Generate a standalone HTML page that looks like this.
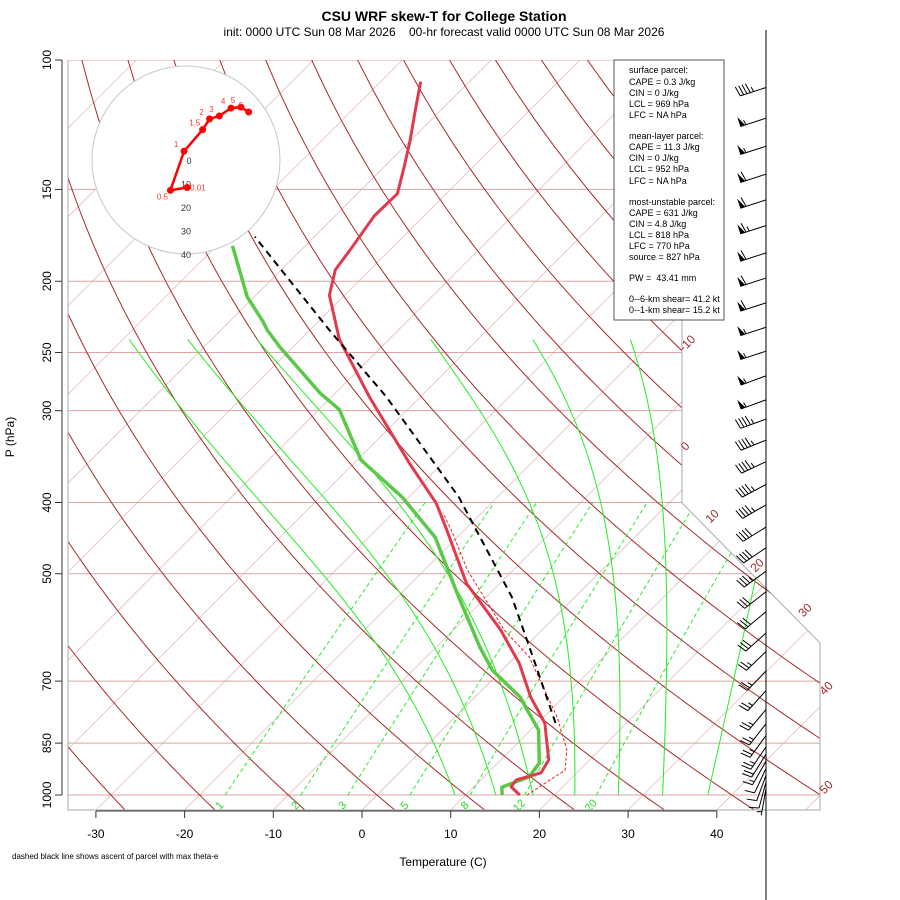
<!DOCTYPE html>
<html><head><meta charset="utf-8"><style>
html,body{margin:0;padding:0;background:#fff;}
svg{display:block;font-family:"Liberation Sans",sans-serif;}
</style></head><body>
<svg id="chart" width="900" height="900" viewBox="0 0 900 900">
<defs><clipPath id="plotclip"><polygon points="68,60 682,60 682,503 820,643 820,810 68,810"/></clipPath></defs>
<text x="444" y="21" text-anchor="middle" font-size="14" font-weight="bold">CSU WRF skew-T for College Station</text>
<text x="444" y="36" text-anchor="middle" font-size="12" xml:space="preserve">init: 0000 UTC Sun 08 Mar 2026    00-hr forecast valid 0000 UTC Sun 08 Mar 2026</text>
<g id="bg" clip-path="url(#plotclip)"></g>
<g id="curves" clip-path="url(#plotclip)"></g>
<g id="frame"></g>
<g id="axes"></g>
<g id="hodo"></g>
<g id="barbs"></g>
<g id="infobox">
<rect x="614" y="60" width="110" height="260" fill="#fff" stroke="#555" stroke-width="1"/>
<g font-size="9" fill="#000">
<text x="629" y="73">surface parcel:</text>
<text x="629" y="85">CAPE = 0.3 J/kg</text>
<text x="629" y="96">CIN = 0 J/kg</text>
<text x="629" y="107">LCL = 969 hPa</text>
<text x="629" y="118">LFC = NA hPa</text>
<text x="629" y="139">mean-layer parcel:</text>
<text x="629" y="150">CAPE = 11.3 J/kg</text>
<text x="629" y="161">CIN = 0 J/kg</text>
<text x="629" y="172">LCL = 952 hPa</text>
<text x="629" y="184">LFC = NA hPa</text>
<text x="629" y="205">most-unstable parcel:</text>
<text x="629" y="216">CAPE = 631 J/kg</text>
<text x="629" y="227">CIN = 4.8 J/kg</text>
<text x="629" y="238">LCL = 818 hPa</text>
<text x="629" y="249">LFC = 770 hPa</text>
<text x="629" y="260">source = 827 hPa</text>
<text x="629" y="281" xml:space="preserve">PW =  43.41 mm</text>
<text x="629" y="302">0--6-km shear= 41.2 kt</text>
<text x="629" y="313">0--1-km shear= 15.2 kt</text>
</g></g>
<text x="443" y="866" text-anchor="middle" font-size="12">Temperature (C)</text>
<text transform="translate(14,437) rotate(-90)" text-anchor="middle" font-size="12">P (hPa)</text>
<text x="12" y="859" font-size="8">dashed black line shows ascent of parcel with max theta-e</text>
</svg>
<script>
// ---- data ----
const tempP = [1000,975,954,933,896,798,736,662,596,515,436,401,354,287,240,209,193,181,163,152,139,128.5,117,107];
const tempT = [16.1,14.2,14.0,16.0,15.4,10.8,6.3,1.2,-4.7,-13.8,-22.0,-26.2,-33.7,-45.8,-55.6,-61.7,-63.9,-64.5,-65.6,-65.5,-67.9,-70.1,-72.9,-75.5];
const dewP = [1000,976,945,905,816,736,676,629,538,446,393,350,299,284,246,233,227,210,179];
const dewT = [14.1,13.2,15.1,14.7,10.9,5.1,-1.1,-5.1,-13.1,-22.5,-30.8,-39.6,-47.7,-51.7,-61.4,-64.8,-66.2,-70.8,-78.2];
const parcelP = [798,661,538,393,287,233,174];
const parcelT = [12.0,2.9,-7.1,-24.4,-43.9,-57.8,-76.7];
const vparcelP = [1000,925,868,783,649,596,494,436,413];
const vparcelT = [16.9,18.4,16.3,11.5,1.6,-4.3,-15.2,-21.5,-24.4];
const pressureLevels = [100,150,200,250,300,400,500,700,850,1000];
const tempTicks = [-30,-20,-10,0,10,20,30,40];
const isothermLabels = [-10,0,10,20,30,40,50];
const mixRatios = [1,2,3,5,8,12,20];
const moistT1000 = [8.8,13.4,17.6,22.3,27.2,32.2,37.3];
const moistTopT240 = [-79.3,-72.7,-64.9,-45.3,-33.8,-22.8,null];
const hodoHeights = ['0.01','0.5','1','1.5','2','3','4','5','6'];
const hodoU = [-0.8,-7.9,-2.1,5.8,8.75,12.9,17.9,22.1,25.4];
const hodoV = [-11.7,-12.9,3.75,12.9,17.5,18.75,22.1,22.5,20.4];
const hodoRings = [10,20,30,40];
const barbP = [109,120,131,143,155,168,183,198,214,231,249,269,290,308,329,352,378,403,432,461,496,529,563,602,638,678,721,765,800,830,860,880,900,920,940,960,980];
const barbSpd = [45,55,55,60,60,65,60,60,60,55,55,55,55,45,45,45,45,45,40,40,35,30,30,30,25,25,25,25,25,25,25,20,15,10,10,10,5];
const barbDir = [252,252,252,252,252,252,252,252,252,252,252,250,250,250,248,245,242,240,238,236,234,232,230,228,226,224,222,220,218,216,214,212,210,205,200,195,190];

// ---- scales ----
const SVGNS="http://www.w3.org/2000/svg";
function yP(p){return 60+319.2*Math.log(p/100);}
function xT(T,p){return 362+8.87*T+(810-yP(p));}
function mk(tag,attrs,parent){const e=document.createElementNS(SVGNS,tag);for(const k in attrs)e.setAttribute(k,attrs[k]);parent.appendChild(e);return e;}
function pathFrom(pts){return pts.map((q,i)=>(i?'L':'M')+q[0].toFixed(1)+','+q[1].toFixed(1)).join('');}
const bg=document.getElementById('bg'),cv=document.getElementById('curves'),ax=document.getElementById('axes');

// isotherms
for(let T=-140;T<=50;T+=10){
  const l=mk('line',{x1:xT(T,1050),y1:yP(1050),x2:xT(T,100),y2:yP(100),stroke:'#e6bcbc','stroke-width':0.8},bg);
  
  
}
// pressure lines
pressureLevels.forEach(p=>{
  const l=mk('line',{x1:68,y1:yP(p),x2:820,y2:yP(p),stroke:'#dba5a5','stroke-width':1},bg);
  
  
});
// dry adiabats
for(let k=-8;k<=16;k++){
  const th=273.15+10*k,pts=[];
  for(let p=1050;p>=100;p-=10){const T=th*Math.pow(p/1000,0.2857)-273.15;pts.push([xT(T,p),yP(p)]);}
  const e=mk('path',{d:pathFrom(pts),fill:'none',stroke:'#a52a2a','stroke-width':1},bg);
  
  
}
// mixing ratio lines
function tdFromE(e){const l=Math.log(e/6.112);return 243.5*l/(17.67-l);}
mixRatios.forEach(w=>{
  const pts=[];for(let p=1000;p>=400;p-=20){pts.push([xT(tdFromE(w*p/(622+w)),p),yP(p)]);}
  const e=mk('path',{d:pathFrom(pts),fill:'none',stroke:'#22ee22','stroke-width':1,'stroke-dasharray':'4,3'},bg);
  
  
  const x0=xT(tdFromE(w*1000/(622+w)),1000);
  const t=mk('text',{transform:`translate(${x0-3},${808}) rotate(-45)`,'font-size':11,fill:'#22dd22','text-anchor':'middle'},bg);
  t.textContent=w;
  
  
});
// moist adiabats
function es(T){return 6.112*Math.exp(17.67*T/(T+243.5));}
moistT1000.forEach((t0,idx)=>{
  let T=t0+273.15,raw=[];
  for(let p=1000;p>=240;p-=2){
    raw.push([xT(T-273.15,p),yP(p)]);
    const e0=es(T-273.15),rs=0.622*e0/(p-e0);
    const Rd=287,Lv=2.5e6,Cp=1004;
    const dTdp=(Rd*T+Lv*rs)/(p*(Cp+Lv*Lv*rs*0.622/(Rd*T*T)));
    T-=dTdp*2;
  }
  const y0=yP(1000),y1=yP(240),top=raw[raw.length-1][0];
  const delta=moistTopT240[idx]===null?0:(xT(moistTopT240[idx],240)-top);
  const pts=raw.map(q=>[q[0]+delta*(y0-q[1])/(y0-y1),q[1]]);
  const e=mk('path',{d:pathFrom(pts),fill:'none',stroke:'#22ee22','stroke-width':1},bg);
  
  
});
// curves
function curve(P,T,attrs,name){
  const e=mk('path',Object.assign({d:pathFrom(P.map((p,i)=>[xT(T[i],p),yP(p)])),fill:'none'},attrs),cv);
  
  
}
curve(vparcelP,vparcelT,{stroke:'#ee2222','stroke-width':1,'stroke-dasharray':'3,2'},'virtual-parcel-line');
curve(dewP,dewT,{stroke:'#5cc84a','stroke-width':3.5,'stroke-linejoin':'round'},'dewpoint-line');
curve(tempP,tempT,{stroke:'#e03a4c','stroke-width':3,'stroke-linejoin':'round'},'temperature-line');
curve(parcelP,parcelT,{stroke:'#000','stroke-width':2,'stroke-dasharray':'7,5'},'parcel-ascent-line');
// frame
const fr=document.getElementById('frame');
mk('polyline',{points:'68,60 68,810 820,810 820,643 682,503 682,60',fill:'none',stroke:'#aaa','stroke-width':1},fr);
mk('line',{x1:766,y1:30,x2:766,y2:900,stroke:'#000','stroke-width':1},fr);
// axes
mk('line',{x1:96,y1:811,x2:717,y2:811,stroke:'#333'},ax);
tempTicks.forEach(T=>{
  const x=362+8.87*T;
  mk('line',{x1:x,y1:811,x2:x,y2:818,stroke:'#333'},ax);
  const t=mk('text',{x:x,y:838,'text-anchor':'middle','font-size':12},ax);t.textContent=T;
  
  
});
mk('line',{x1:62,y1:yP(100),x2:62,y2:yP(1000),stroke:'#333'},ax);
pressureLevels.forEach(p=>{
  const y=yP(p);
  mk('line',{x1:55,y1:y,x2:62,y2:y,stroke:'#333'},ax);
  const t=mk('text',{transform:`translate(51,${y}) rotate(-90)`,'text-anchor':'middle','font-size':12},ax);t.textContent=p;
  
  
});
// isotherm labels (at right boundary)
const isoLabelPos={'-10':[690,346],'0':[688,449],'10':[715,519],'20':[760,568],'30':[808,613],'40':[829,691],'50':[829,790]};
isothermLabels.forEach(T=>{
  const q=isoLabelPos[T];
  const t=mk('text',{transform:`translate(${q[0]},${q[1]}) rotate(-45)`,'text-anchor':'middle','font-size':12,fill:'#a52a2a'},ax);t.textContent=T;
  
  
});
// hodograph
const hg=document.getElementById('hodo'),HX=186,HY=160,HS=2.35;
hodoRings.forEach(r=>{
  mk('circle',{cx:HX,cy:HY,r:r*HS,fill:r==40?'#fff':'none',stroke:'#c8c8c8','stroke-width':1},hg);
});
hodoRings.forEach(r=>{
  const t=mk('text',{x:HX,y:HY+r*HS+4,'text-anchor':'middle','font-size':9,fill:'#333'},hg);t.textContent=r;
});
{const t=mk('text',{x:HX+3,y:HY+4,'text-anchor':'middle','font-size':9,fill:'#333'},hg);t.textContent='0';}
const hpts=hodoU.map((u,i)=>[HX+3+u*HS,HY-hodoV[i]*HS]);
mk('path',{d:pathFrom(hpts),fill:'none',stroke:'#ff0000','stroke-width':2.5},hg);
hpts.forEach((q,i)=>{
  const c=mk('circle',{cx:q[0],cy:q[1],r:3.5,fill:'#ff0000'},hg);
  
  
  const t=mk('text',{x:q[0]+(i==0?3:-8),y:q[1]+(i==1?9:i==0?3:-4),'font-size':8,fill:'#ff3333','text-anchor':i==0?'start':'middle'},hg);
  t.textContent=hodoHeights[i];
});
// wind barbs
const bb=document.getElementById('barbs');
barbP.forEach((p,i)=>{
  const y=yP(p),d=barbDir[i]*Math.PI/180,L=27;
  const dx=Math.sin(d),dy=-Math.cos(d);
  const ex=766+L*dx,ey=y+L*dy;
  const g=mk('g',{},bb);
  
  
  mk('line',{x1:766,y1:y,x2:ex,y2:ey,stroke:'#000','stroke-width':1},g);
  const px=-dy,py=dx;
  let s=Math.round(barbSpd[i]/5)*5,pos=0;
  while(s>=50){
    const ax1=ex-dx*pos,ay1=ey-dy*pos,ax2=ex-dx*(pos+5),ay2=ey-dy*(pos+5);
    mk('polygon',{points:`${ax1},${ay1} ${ax2},${ay2} ${ax1+px*10},${ay1+py*10}`,fill:'#000'},g);
    pos+=6;s-=50;
  }
  while(s>=10){
    const bx=ex-dx*pos,by=ey-dy*pos;
    mk('line',{x1:bx,y1:by,x2:bx+px*10+dx*2,y2:by+py*10+dy*2,stroke:'#000'},g);
    pos+=3.5;s-=10;
  }
  if(s>=5){
    if(pos==0)pos=3.5;
    const bx=ex-dx*pos,by=ey-dy*pos;
    mk('line',{x1:bx,y1:by,x2:bx+px*5+dx,y2:by+py*5+dy,stroke:'#000'},g);
  }
});
</script>
</body></html>
